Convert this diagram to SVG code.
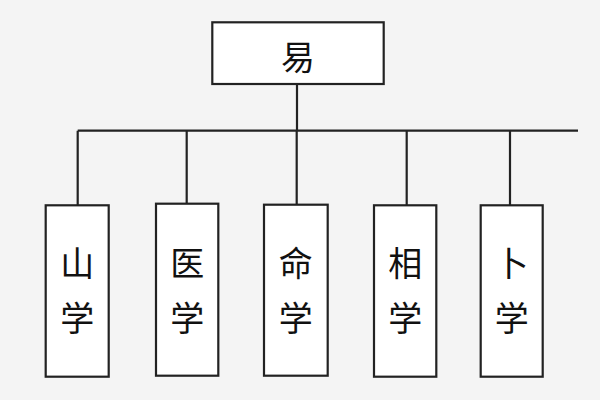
<svg xmlns="http://www.w3.org/2000/svg" width="600" height="400" viewBox="0 0 600 400">
<style>
.box{fill:#ffffff;stroke:#222;stroke-width:2.2}
.ln{fill:none;stroke:#222;stroke-width:2.2}
.t{font-family:"Noto Sans CJK SC","Noto Sans CJK JP",sans-serif;font-size:34px;fill:#111;text-anchor:middle}
</style>
<rect width="600" height="400" fill="#f4f4f4"/>
<g id="connectors">
<path class="ln" d="M297 84V130.7M77.7 130.7H578M77.7 130.7V205.3M186.7 130.7V203.7M296.7 130.7V204.7M406.7 130.7V205.3M510 130.7V205.3"/>
</g>
<g id="node-yi">
<rect class="box" x="212.3" y="22.3" width="171.4" height="61.7"/>
<text class="t" x="298" y="70">易</text>
</g>
<g id="node-shan">
<rect class="box" x="45.7" y="205.3" width="63" height="171.4"/>
<text class="t" x="77.2" y="276">山</text>
<text class="t" x="77.2" y="331">学</text>
</g>
<g id="node-yi2">
<rect class="box" x="156" y="203.7" width="62.3" height="172"/>
<text class="t" x="187.2" y="276">医</text>
<text class="t" x="187.2" y="331">学</text>
</g>
<g id="node-ming">
<rect class="box" x="264" y="204.7" width="63.7" height="171"/>
<text class="t" x="295.8" y="276">命</text>
<text class="t" x="295.8" y="331">学</text>
</g>
<g id="node-xiang">
<rect class="box" x="374" y="205.3" width="62.3" height="171.4"/>
<text class="t" x="405.2" y="276">相</text>
<text class="t" x="405.2" y="331">学</text>
</g>
<g id="node-bu">
<rect class="box" x="480.7" y="205.3" width="62" height="171.4"/>
<text class="t" x="511.7" y="276">卜</text>
<text class="t" x="511.7" y="331">学</text>
</g>
</svg>
